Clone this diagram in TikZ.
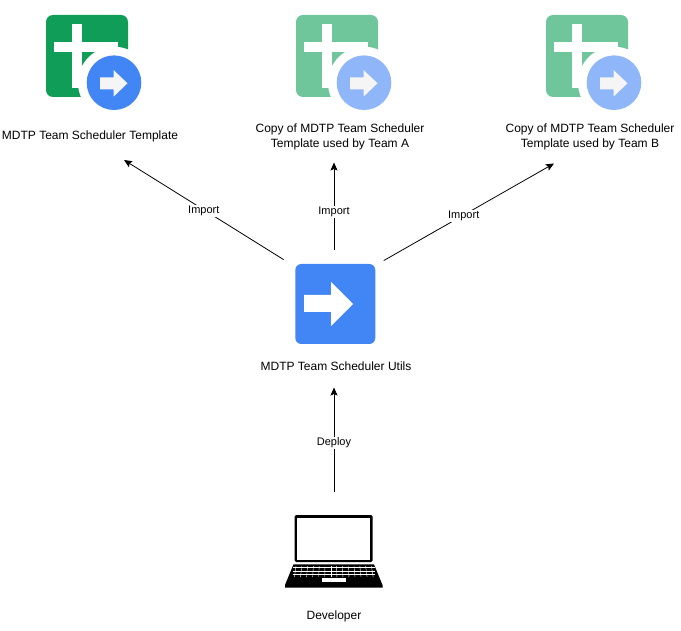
\documentclass[tikz,border=0pt]{standalone}
\usepackage{fontspec}
\usetikzlibrary{arrows.meta}
\setmainfont{Liberation Sans}
\definecolor{sheetgreen}{HTML}{0F9D58}
\definecolor{paleg}{HTML}{70C69B}
\definecolor{scriptblue}{HTML}{4285F4}
\definecolor{paleb}{HTML}{8EB6F8}
\tikzset{
	caption/.style={align=center, font=\fontsize{12}{15}\selectfont, inner sep=0pt},
	edgelabel/.style={fill=white, font=\fontsize{11}{13}\selectfont, inner sep=1pt},
	iconbox/.style={rectangle, rounded corners=7pt, minimum size=82pt, inner sep=0pt},
}
% sheet icon: name, left edge, sheet colour, arrow colour
\newcommand{\sheeticon}[4]{
	\node[iconbox, fill=#3] (#1) at (#2+41,56) {};
	\fill[white] (#2+26,24) rectangle (#2+36,88);
	\fill[white] (#2+8,42) rectangle (#2+72,52);
	\fill[white] (#2+68,82.7) circle (36);
	\fill[#4] (#2+68,82.7) circle (27.3);
	\fill[white!96!black] (#2+54,77.3) -- (#2+67.5,77.3) -- (#2+67.5,70) -- (#2+81.5,83.3)
		-- (#2+67.5,96.7) -- (#2+67.5,89.3) -- (#2+54,89.3) -- cycle;
}
\begin{document}
\begin{tikzpicture}[>={Stealth[length=8pt,width=7pt,inset=1.5pt]}, x=1pt, y=-1pt, line width=0.8pt]
	\useasboundingbox (0,0) rectangle (681,631);
	\sheeticon{tmpl}{46}{sheetgreen}{scriptblue}
	\sheeticon{copya}{296}{paleg}{paleb}
	\sheeticon{copyb}{546}{paleg}{paleb}
	\node[caption] (tmpllabel) at (90,136.5) {MDTP Team Scheduler Template};
	\node[caption] (copyalabel) at (340,137) {Copy of MDTP Team Scheduler\\Template used by Team A};
	\node[caption] (copyblabel) at (590,137) {Copy of MDTP Team Scheduler\\Template used by Team B};
	% script icon
	\node[rectangle, rounded corners=6pt, minimum size=80pt, inner sep=0pt, fill=scriptblue]
	(utils) at (335.3,304) {};
	\fill[white] (304,295) -- (331,295) -- (331,282) -- (353,304) -- (331,326)
		-- (331,312) -- (304,312) -- cycle;
	\node[caption] (utilslabel) at (336,366.5) {MDTP Team Scheduler Utils};
	% laptop
	\node[rectangle, rounded corners=1.5pt, minimum width=78pt, minimum height=47pt, inner sep=0pt,
	fill=black] (laptop) at (333.5,538.5) {};
	\fill[white] (296.8,517.8) rectangle (370.2,560);
	\fill[black] (293.5,564.3) -- (374,564.3) -- (382.5,585) -- (382.5,587.5) -- (285,587.5) -- (285,585) -- cycle;
	\foreach \row in {567.5,570.7,573.9} {
		\draw[white, line width=0.4pt] (293,\row) -- (375,\row);
	}
	\foreach \i in {0,...,13} {
		\draw[white, line width=0.4pt] (296+\i*5.8,566) -- (294.5+\i*6.05,577);
	}
	\fill[white] (321.7,577.5) rectangle (345.7,581.9);
	\node[caption] (devlabel) at (334,616.5) {Developer};
	% connectors
	\draw[->] ([xshift=-11.3pt,yshift=4pt]utils.north west) --
	node[edgelabel, pos=0.5, yshift=-1.5pt] {Import}
	([xshift=34pt,yshift=-23.5pt]tmpllabel.center);
	\draw[->] ([xshift=-1.3pt,yshift=14pt]utils.north) --
	node[edgelabel, pos=0.43] {Import}
	([xshift=-6pt,yshift=-25.5pt]copyalabel.center);
	\draw[->] ([xshift=8pt,yshift=3pt]utils.north east) --
	node[edgelabel, pos=0.47, yshift=-1pt] {Import}
	([xshift=-36pt,yshift=-26.5pt]copyblabel.center);
	\draw[->] ([xshift=0.5pt,yshift=23pt]laptop.north) --
	node[edgelabel, pos=0.47] {Deploy}
	([xshift=-2pt,yshift=-21pt]utilslabel.center);
\end{tikzpicture}
\end{document}
